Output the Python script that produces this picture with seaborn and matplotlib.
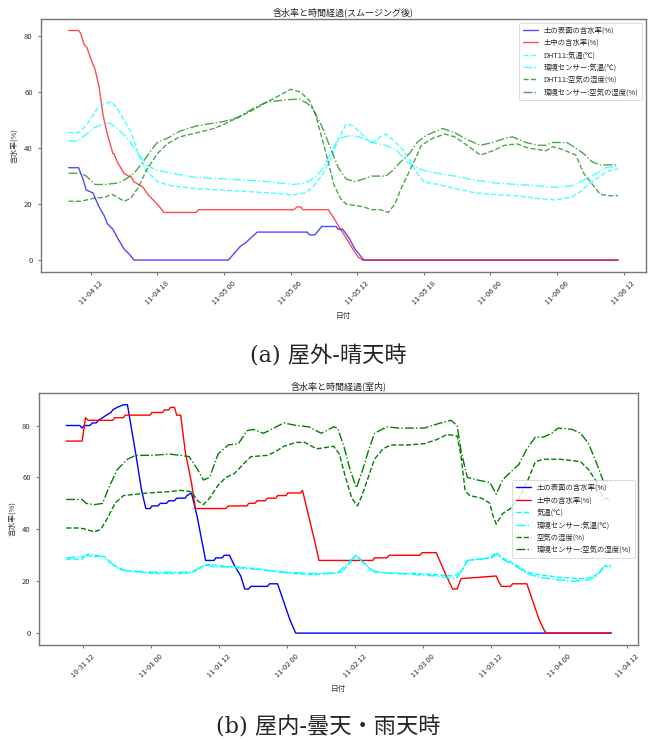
import numpy as np
import pandas as pd
import matplotlib
matplotlib.use("Agg")
import matplotlib.pyplot as plt
import matplotlib.dates as mdates
import seaborn as sns

# ==========================================
# データ (時刻は基準時刻からの経過時間[h])
# ==========================================
# (a) 屋外-晴天時  基準: 11-04 12:00
BASE_A = pd.Timestamp("2023-11-04 12:00")

a_surface_h = [-2.0, -1.1, -0.7, -0.4, 0.2, 0.75, 1.2, 1.5, 2.0, 2.4, 3.0, 3.5, 3.9, 12.4, 13.5, 13.9, 15.0,
               19.5, 19.7, 20.2, 20.4, 20.8, 22.1, 22.3, 22.7, 23.25, 23.8, 24.6, 47.5]
a_surface_v = [33, 33, 29, 25, 24, 19, 16, 13, 11, 8, 4, 2, 0, 0, 5, 6, 10,
               10, 9, 9, 10, 12, 12, 11, 11, 8, 4, 0, 0]

a_inner_h = [-2.0, -1.1, -0.9, -0.6, -0.35, 0.0, 0.4, 0.75, 1.1, 1.5, 2.0, 2.1, 2.4, 3.0, 3.4, 3.6, 3.9,
             4.7, 5.25, 6.0, 6.6, 9.5, 9.7, 18.3, 18.6, 18.9, 19.1, 21.4, 21.9, 22.5, 23.0, 23.6, 24.1, 24.5, 47.5]
a_inner_v = [82, 82, 81, 77, 76, 72, 68, 62, 52, 45, 38, 38, 35, 31, 30, 30, 28,
             26, 23, 20, 17, 17, 18, 18, 19, 19, 18, 18, 15, 11, 8, 4, 1, 0, 0]

a_dht_temp_h = [-2.0, -1.1, -0.4, 0.4, 0.75, 1.3, 1.9, 2.4, 3.0, 3.6, 4.3, 5.0, 6.0, 7.3, 9.5, 12.0, 14.1,
                16.0, 18.2, 19.3, 20.0, 20.8, 21.6, 22.3, 23.0, 23.6, 24.2, 24.9, 25.5, 26.1, 26.6, 27.2,
                28.0, 28.7, 29.4, 30.0, 31.3, 32.8, 34.7, 36.6, 38.4, 40.3, 41.8, 43.3, 44.1, 44.8, 45.9,
                46.7, 47.5]
a_dht_temp_v = [45.5, 45.5, 48, 53, 55, 56, 56.5, 54, 50, 46, 38, 32, 28, 26.5, 25.5, 25, 24.5,
                24, 23.3, 24, 26, 30, 36, 43, 48.5, 48, 46, 43, 42, 44, 45, 43,
                40, 36, 31, 28, 27, 25.5, 24, 23.3, 23, 22, 21.5, 22.5, 24.5, 27, 30,
                32, 32.5]

a_env_temp_h = [-2.0, -1.1, -0.4, 0.4, 1.1, 1.7, 2.4, 3.2, 4.1, 5.0, 6.0, 7.3, 9.5, 12.0, 14.1, 16.0,
                18.2, 19.3, 20.0, 20.8, 21.6, 22.3, 23.4, 24.2, 25.3, 26.6, 27.6, 28.5, 29.4, 30.0, 31.3,
                32.8, 34.7, 36.6, 38.4, 40.3, 41.8, 43.3, 44.4, 45.6, 46.4, 47.5]
a_env_temp_v = [42.5, 42.5, 45, 47.5, 48.5, 49, 47, 44, 39, 34, 32, 31, 29.5, 29, 28.5, 28,
                27, 27.5, 29, 32, 38, 43.5, 44.5, 44, 42, 41, 39, 35, 33, 32, 31,
                30, 28.5, 27.5, 27, 26.5, 26, 26.5, 28.5, 31, 33, 33.5]

a_dht_hum_h = [-2.0, -0.9, 0.2, 1.3, 1.9, 2.4, 3.0, 3.6, 4.3, 5.0, 6.0, 6.9, 8.0, 9.6, 11.1, 12.0, 13.3,
               14.8, 15.9, 17.1, 18.0, 18.9, 19.7, 20.25, 20.8, 21.4, 21.9, 22.5, 23.0, 23.8, 24.6, 25.3,
               26.1, 26.8, 27.4, 27.9, 28.5, 29.1, 29.8, 30.8, 31.9, 32.8, 33.9, 35.1, 36.2, 37.3, 38.4,
               39.4, 40.3, 41.0, 41.6, 42.5, 43.7, 44.4, 45.2, 45.9, 46.7, 47.5]
a_dht_hum_v = [21, 21, 22, 22.5, 23.5, 22.5, 21, 22, 26, 32, 38, 41.5, 44, 45.5, 47, 48.5, 51,
               54, 56.5, 59, 61, 60, 57, 52, 44, 35, 27, 22, 20, 19.5, 19, 18,
               18, 17, 20, 25, 30, 35, 41, 43.5, 45, 44, 41, 37.5, 39, 41, 41.5,
               40, 39.5, 39, 40.5, 39.5, 37.5, 31, 27, 23.5, 23, 23]

a_env_hum_h = [-2.0, -0.9, -0.4, 0.4, 1.3, 2.4, 3.2, 3.9, 4.7, 5.4, 6.0, 6.9, 8.0, 9.6, 12.0, 13.3, 14.8,
               15.9, 17.8, 18.8, 19.5, 20.0, 20.8, 21.6, 22.3, 23.0, 23.8, 24.6, 25.3, 26.6, 27.2, 27.9,
               28.7, 29.4, 30.2, 31.7, 32.8, 33.9, 35.1, 36.2, 37.3, 38.0, 39.2, 40.3, 41.0, 41.6, 42.9,
               43.7, 44.4, 45.2, 45.9, 46.7, 47.5]
a_env_hum_v = [31, 31, 30, 27, 27, 27.5, 29, 31, 35, 39, 42, 43.5, 46, 48, 49.5, 51, 54.5,
               56.5, 57.3, 57.5, 56, 54, 48, 40, 33, 29, 28, 29, 30, 30, 32, 35,
               38, 42, 44.5, 47, 45.5, 43, 41, 42, 43.5, 44, 42, 41, 41, 42, 42,
               40, 38, 35, 34, 34, 34]

# (b) 屋内-曇天・雨天時  基準: 10-31 12:00
BASE_B = pd.Timestamp("2023-10-31 12:00")

b_surface_h = [-3.0, -0.6, -0.2, 0.15, 0.5, 1.2, 1.6, 2.3, 2.7, 3.4, 4.1, 4.9, 5.2, 6.0, 7.1, 7.8, 9.2, 10.3,
               11.05, 11.8, 12.1, 13.2, 13.6, 14.7, 15.1, 16.1, 16.5, 18.0, 18.3, 19.1, 20.1, 21.6, 23.1,
               23.4, 24.5, 24.9, 25.8, 26.7, 27.8, 28.5, 29.2, 29.6, 32.5, 32.9, 34.3, 35.4, 36.5, 37.5, 93.2]
b_surface_v = [80, 80, 79, 80, 80, 80, 81, 81, 82, 83, 84, 85, 86, 87, 88, 88, 70, 55,
               48, 48, 49, 49, 50, 50, 51, 51, 52, 52, 53, 54, 45, 28, 28,
               29, 29, 30, 30, 26, 22, 17, 17, 18, 18, 19, 19, 12, 5, 0, 0]

b_inner_h = [-3.0, -0.2, 0.4, 0.9, 5.2, 5.6, 7.1, 7.4, 11.8, 12.1, 14.0, 14.3, 15.1, 15.4, 16.1, 16.5, 17.2,
             18.0, 19.1, 19.8, 25.2, 25.6, 28.9, 29.2, 30.3, 30.7, 32.1, 32.5, 34.0, 34.3, 35.8, 36.1, 38.3,
             38.7, 39.8, 40.9, 41.6, 51.1, 51.4, 53.6, 54.0, 59.4, 59.8, 62.3, 63.1, 64.1, 65.2, 66.0, 66.7,
             72.9, 73.3, 73.8, 75.4, 75.8, 78.3, 79.4, 80.5, 81.4, 81.8, 93.2]
b_inner_v = [74, 74, 83, 82, 82, 83, 83, 84, 84, 85, 85, 86, 86, 87, 87, 84, 84,
             70, 58, 48, 48, 49, 49, 50, 50, 51, 51, 52, 52, 53, 53, 54, 54,
             55, 45, 35, 28, 28, 29, 29, 30, 30, 31, 31, 27, 22, 17, 17, 21,
             22, 20, 18, 18, 19, 19, 12, 5, 1, 0, 0]

b_temp_h = [-3.0, -0.2, 0.5, 1.6, 3.8, 4.9, 6.3, 7.8, 10.0, 12.1, 15.1, 18.0, 19.4, 20.9, 22.3, 23.8, 26.7,
            29.6, 33.2, 36.9, 40.5, 43.4, 45.6, 47.1, 48.1, 49.2, 50.7, 52.1, 55.1, 58.7, 62.3, 65.2, 66.0,
            67.1, 67.8, 71.8, 72.9, 74.0, 76.2, 78.3, 80.5, 84.1, 87.8, 89.9, 91.4, 92.1, 93.2]
b_temp_v = [28.5, 28.5, 30, 29.5, 29.5, 27, 25, 24, 23.5, 23, 23, 23, 23.5, 25.5, 26.5, 26, 25.5,
            25, 24, 23, 22.5, 23, 23.5, 27, 30, 28, 24.5, 23.5, 23, 23, 22.5, 22, 22.5,
            25, 28, 29, 31, 29, 26.5, 23.5, 22.5, 21.5, 21, 21.5, 24, 26, 25]

b_env_temp_h = [-3.0, 0.15, 0.9, 3.4, 4.9, 6.3, 7.8, 11.4, 15.1, 18.7, 20.1, 21.6, 23.1, 25.2, 28.1, 31.1,
                35.4, 40.5, 44.8, 46.3, 48.1, 49.2, 51.4, 55.1, 58.7, 62.3, 65.2, 66.0, 67.1, 67.8, 70.3,
                72.1, 72.9, 74.4, 76.2, 78.3, 80.5, 84.1, 86.3, 89.2, 90.7, 91.8, 93.2]
b_env_temp_v = [29, 29.5, 30.5, 29.5, 27, 24.5, 24, 23.5, 23.5, 23.5, 24.5, 26.5, 25.5, 25.5, 25, 24.5,
                23.5, 23, 23, 26, 30, 27.5, 23.5, 23, 22.5, 22, 21, 21.5, 25, 28, 28.5,
                29, 30.5, 28, 26, 23, 21.5, 20.5, 20, 20.5, 22, 25.5, 26]

b_hum_h = [-3.0, -0.6, 0.5, 2.0, 3.1, 4.2, 5.6, 7.1, 9.2, 11.4, 15.1, 17.2, 19.1, 20.2, 21.2, 22.3, 23.8,
           25.2, 26.7, 28.2, 29.6, 32.5, 34.0, 35.4, 37.6, 39.1, 41.2, 42.7, 44.2, 45.2, 46.3, 47.4, 48.4,
           49.2, 50.3, 51.4, 52.9, 54.3, 57.2, 60.2, 62.3, 64.2, 66.0, 66.7, 67.4, 68.2, 70.3, 71.8, 72.2,
           72.9, 74.0, 75.4, 76.9, 78.3, 79.8, 81.2, 84.2, 86.3, 87.8, 89.2, 90.7, 91.8, 93.2]
b_hum_v = [40.5, 40.5, 40, 39, 40, 44, 50, 53, 53.5, 54, 54.5, 55, 54.5, 51, 49.5, 52, 57,
           60, 61.5, 65, 68, 68.5, 70, 72, 73.5, 73.5, 71, 71.5, 72, 69, 60, 52, 49,
           53, 60, 67, 71, 72.5, 72.5, 73, 74.5, 76.5, 76, 68, 55, 53, 52, 50, 46,
           42, 46, 48, 52, 58, 66, 67, 67, 66.5, 66, 63, 58, 52, 51.5]

b_env_hum_h = [-3.0, -0.2, 0.5, 2.0, 3.4, 4.5, 6.0, 7.8, 9.2, 12.2, 15.1, 17.2, 18.7, 20.2, 21.2, 22.3,
               23.8, 25.6, 27.4, 28.9, 30.0, 31.8, 33.2, 35.4, 37.6, 39.8, 42.0, 44.2, 44.9, 46.0, 47.1,
               48.2, 49.2, 50.3, 51.4, 53.6, 55.8, 60.2, 63.1, 64.9, 66.0, 66.7, 67.8, 69.6, 71.8, 72.9,
               74.0, 75.4, 76.9, 78.3, 79.8, 81.2, 82.7, 83.8, 86.3, 87.8, 89.2, 90.7, 91.8, 93.2]
b_env_hum_v = [51.5, 51.5, 50, 49.5, 50, 56, 63, 67, 68.5, 68.5, 69, 68.5, 68, 63, 59, 60,
               69, 72.5, 73, 78, 78.5, 77, 78.5, 81, 80, 79.5, 77, 79.5, 79, 72, 63,
               56, 62, 70, 77, 79.5, 79, 79, 81, 82, 80, 70, 60, 59, 58, 53.5,
               59, 62, 65, 71, 75.5, 75.5, 77, 79, 78.5, 77, 73, 65, 58.5, 58.5]

# ==========================================
# 描画
# ==========================================
sns.set_style("ticks")
plt.rcParams['font.family'] = ['Noto Sans CJK JP', 'DejaVu Sans']
plt.rcParams['axes.edgecolor'] = '#777777'
plt.rcParams['xtick.color'] = '#777777'
plt.rcParams['ytick.color'] = '#777777'
plt.rcParams['xtick.labelcolor'] = '#333333'
plt.rcParams['ytick.labelcolor'] = '#333333'


def to_time(base, hours):
    return base + pd.to_timedelta(np.array(hours), unit='h')


def draw_panel(ax, base, series, title, byhour, legend_loc, alpha):
    for hours, vals, color, ls, label in series:
        sns.lineplot(x=to_time(base, hours), y=vals, ax=ax, color=color, linestyle=ls,
                     linewidth=1.0, alpha=alpha, label=label, legend=False)
    ax.set_title(title, fontsize=6.5, pad=3, color='#222222')
    ax.set_xlabel('日付', fontsize=5.5, color='#333333')
    ax.set_ylabel('含水率(%)', fontsize=5.5, color='#333333')
    ax.xaxis.set_major_locator(mdates.HourLocator(byhour=byhour))
    ax.xaxis.set_major_formatter(mdates.DateFormatter('%m-%d %H'))
    ax.tick_params(axis='x', labelrotation=45, labelsize=5.5, length=2.5, width=0.8)
    ax.tick_params(axis='y', labelsize=5.5, length=2.5, width=0.8)
    ax.set_yticks([0, 20, 40, 60, 80])
    for sp in ax.spines.values():
        sp.set_linewidth(1.0)
    leg = ax.legend(loc=legend_loc, fontsize=5.3, handlelength=2.0, framealpha=0.8,
                    borderpad=0.5, labelspacing=0.6)
    leg.get_frame().set_edgecolor('#cccccc')
    leg.get_frame().set_linewidth(0.6)


fig = plt.figure(figsize=(6.5, 7.42), dpi=100)
ax_a = fig.add_axes([0.0631, 0.634, 0.930, 0.3404])
ax_b = fig.add_axes([0.0600, 0.1314, 0.9223, 0.3385])

series_a = [
    (a_surface_h, a_surface_v, 'blue', '-', '土の表面の含水率(%)'),
    (a_inner_h, a_inner_v, 'red', '-', '土中の含水率(%)'),
    (a_dht_temp_h, a_dht_temp_v, 'cyan', '--', 'DHT11:気温(℃)'),
    (a_env_temp_h, a_env_temp_v, 'cyan', '-.', '環境センサー:気温(℃)'),
    (a_dht_hum_h, a_dht_hum_v, 'green', '--', 'DHT11:空気の湿度(%)'),
    (a_env_hum_h, a_env_hum_v, 'green', '-.', '環境センサー:空気の湿度(%)'),
]
series_b = [
    (b_surface_h, b_surface_v, 'blue', '-', '土の表面の含水率(%)'),
    (b_inner_h, b_inner_v, 'red', '-', '土中の含水率(%)'),
    (b_temp_h, b_temp_v, 'cyan', '--', '気温(℃)'),
    (b_env_temp_h, b_env_temp_v, 'cyan', '-.', '環境センサー:気温(℃)'),
    (b_hum_h, b_hum_v, 'green', '--', '空気の湿度(%)'),
    (b_env_hum_h, b_env_hum_v, 'green', '-.', '環境センサー:空気の湿度(%)'),
]

draw_panel(ax_a, BASE_A, series_a, '含水率と時間経過(スムージング後)', [0, 6, 12, 18], 'upper right', 0.7)
draw_panel(ax_b, BASE_B, series_b, '含水率と時間経過(室内)', [0, 12], 'center right', 1.0)

cap_font = ['DejaVu Serif', 'Noto Sans CJK JP']
fig.text(0.505, 1 - 356 / 742, '(a) 屋外-晴天時', ha='center', va='center', fontsize=16, family=cap_font)
fig.text(0.505, 1 - 727 / 742, '(b) 屋内-曇天・雨天時', ha='center', va='center', fontsize=16, family=cap_font)

fig.savefig('out.png', dpi=100)
